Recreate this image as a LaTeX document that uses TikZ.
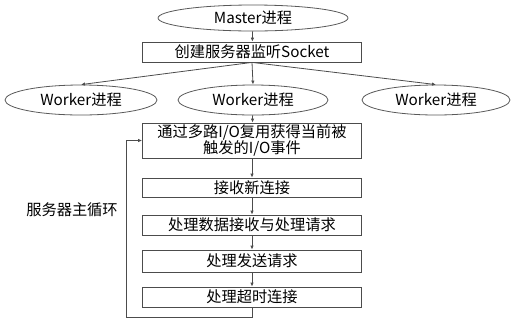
\documentclass[tikz,border=0pt]{standalone}
\usepackage{fontspec}
\setmainfont{Noto Sans CJK SC}
\usetikzlibrary{shapes.geometric,arrows.meta}

\tikzset{
	proc/.style={ellipse, draw=black!65, line width=0.8bp, inner sep=0pt},
	stepbox/.style={rectangle, draw=black!70, line width=0.8bp, inner sep=0pt, minimum width=219bp},
}

\begin{document}
\begin{tikzpicture}[x=1bp, y=-1bp, >={Latex[length=4bp,width=3.5bp]},
	font=\fontsize{15.3}{17}\selectfont]

	\useasboundingbox (0,0) rectangle (515,323);

	% processes
	\node 	(master)	at	(253,18) 	[proc, minimum width=190bp, minimum height=26bp]{Master进程};
	\node 	(listen)	at	(252,52) 	[stepbox, minimum height=20bp]{创建服务器监听Socket};

	\node 	(w1)		at	(81,100) 	[proc, minimum width=152bp, minimum height=30bp]{Worker进程};
	\node 	(w2)		at	(253,100) 	[proc, minimum width=150bp, minimum height=30bp]{Worker进程};
	\node 	(w3)		at	(436,100) 	[proc, minimum width=148bp, minimum height=30bp]{Worker进程};

	% main loop of one worker
	\node 	(events)	at	(252,140.5) 	[stepbox, minimum height=35bp, align=center, font=\fontsize{15.3}{15.5}\selectfont]{通过多路I/O复用获得当前被\\触发的I/O事件};
	\node 	(accept)	at	(252,187.5) 	[stepbox, minimum height=19bp]{接收新连接};
	\node 	(recv)		at	(252,225) 	[stepbox, minimum height=20bp]{处理数据接收与处理请求};
	\node 	(send)		at	(252,261) 	[stepbox, minimum height=22bp]{处理发送请求};
	\node 	(timeout)	at	(252,297) 	[stepbox, minimum height=20bp]{处理超时连接};

	\node 	(looplbl)	at	(72,210) 	{服务器主循环};

	\coordinate (back) at (126,317);

	\draw[->, black!70, line width=0.8bp]	(master)	to	(listen);
	\draw[->, black!70, line width=0.8bp]	(listen.south)	to	(w1.north);
	\draw[->, black!70, line width=0.8bp]	(listen.south)	to	(w2.north);
	\draw[->, black!70, line width=0.8bp]	(listen.south)	to	(w3.north);
	\draw[->, black!70, line width=0.8bp]	(w2)	to	(events);
	\draw[->, black!70, line width=0.8bp]	(events)	to	(accept);
	\draw[->, black!70, line width=0.8bp]	(accept)	to	(recv);
	\draw[->, black!70, line width=0.8bp]	(recv)	to	(send);
	\draw[->, black!70, line width=0.8bp]	(send)	to	(timeout);

	\draw[->, black!70, line width=0.8bp]	(timeout.south)	|-	(back)	|-	(events.west);

\end{tikzpicture}
\end{document}
